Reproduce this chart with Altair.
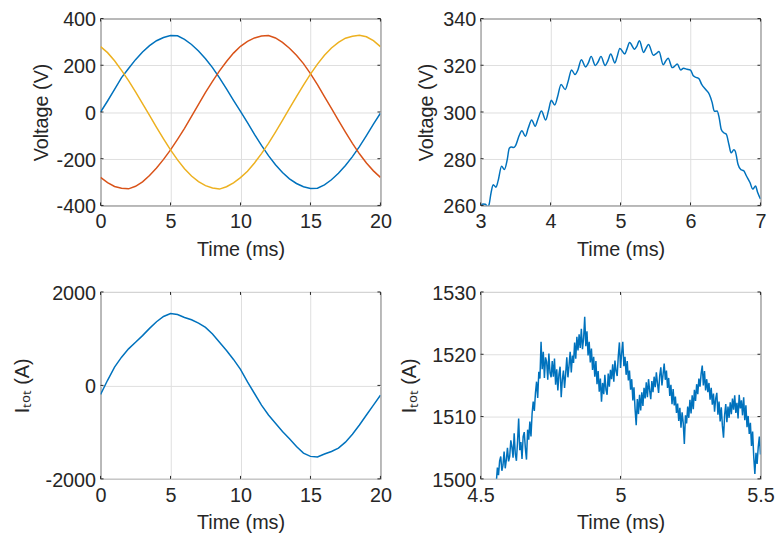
import altair as alt
import pandas as pd
import numpy as np

FONT = "Liberation Sans"
TXT = "#262626"
BLUE, ORANGE, YELLOW = "#0072BD", "#D95319", "#EDB120"

# ---------- Panel 1: three phase voltages (0-20 ms) ----------
t_phase = [i * 0.5 for i in range(41)]
v_a = [0, 47, 97, 147, 186, 224, 257, 284, 305, 319, 327, 326, 311, 289, 261, 228, 190, 146, 99, 50,
       3, -46, -96, -143, -187, -226, -259, -286, -306, -320, -327, -326, -312, -290, -262, -229,
       -191, -148, -101, -52, -5]
v_b = [-280, -302, -319, -326, -329, -318, -299, -272, -240, -203, -162, -117, -70, -19, 33, 84,
       131, 176, 216, 252, 281, 302, 317, 325, 327, 317, 298, 273, 243, 207, 164, 117, 66, 15,
       -36, -86, -134, -179, -218, -252, -280]
v_c = [280, 254, 219, 178, 134, 86, 36, -15, -66, -115, -162, -205, -243, -274, -298, -315, -325,
       -330, -320, -303, -281, -254, -218, -178, -134, -86, -36, 15, 66, 115, 162, 205, 243, 274,
       298, 316, 324, 328, 322, 305, 280]

# ---------- Panel 2: zoom of phase A voltage (3-7 ms) ----------
tz_v = [3.00, 3.03, 3.07, 3.10, 3.12, 3.15, 3.18, 3.22, 3.25, 3.30, 3.34, 3.38, 3.41, 3.44, 3.47,
        3.50, 3.55, 3.59, 3.64, 3.68, 3.73, 3.78, 3.82, 3.87, 3.93, 3.97, 4.01, 4.06, 4.10, 4.15,
        4.21, 4.25, 4.30, 4.35, 4.39, 4.44, 4.50, 4.54, 4.58, 4.64, 4.68, 4.72, 4.78, 4.82, 4.86,
        4.92, 4.95, 4.99, 5.06, 5.09, 5.13, 5.20, 5.23, 5.27, 5.33, 5.36, 5.40, 5.47, 5.51, 5.55,
        5.61, 5.64, 5.68, 5.74, 5.77, 5.81, 5.86, 5.90, 5.95, 6.00, 6.04, 6.08, 6.12, 6.16, 6.22,
        6.27, 6.31, 6.34, 6.38, 6.41, 6.44, 6.48, 6.51, 6.55, 6.58, 6.62, 6.64, 6.68, 6.72, 6.76,
        6.80, 6.85, 6.89, 6.93, 6.96, 7.00]
vz = [259.2, 260.6, 260.5, 259.4, 260.3, 265.5, 268.9, 267.8, 270.5, 276.8, 275.4, 279.5, 284.5,
      285.0, 284.8, 285.6, 289.8, 292.0, 289.6, 293.0, 296.6, 293.9, 297.0, 300.4, 296.6, 300.5,
      305.0, 303.0, 306.5, 311.8, 309.6, 313.0, 318.0, 316.0, 318.0, 322.4, 319.3, 321.0, 323.8,
      319.9, 321.5, 323.8, 319.9, 322.0, 324.8, 321.0, 323.5, 327.2, 324.8, 326.8, 329.7, 326.9,
      328.0, 330.5, 325.5, 327.0, 328.9, 324.3, 325.0, 325.9, 320.2, 321.5, 323.0, 319.0, 319.5,
      320.5, 318.0, 318.7, 318.3, 317.9, 315.5, 314.8, 314.3, 311.8, 309.5, 307.5, 304.0, 300.3,
      300.4, 297.5, 292.5, 291.0, 290.6, 286.0, 282.5, 283.8, 283.2, 277.5, 275.3, 274.9, 272.6,
      269.8, 267.0, 268.3, 265.5, 262.8]

# ---------- Panel 3: total current (0-20 ms) ----------
t_cur = [i * 0.5 for i in range(41)]
i_tot = [-195, 110, 393, 605, 782, 924, 1066, 1221, 1363, 1476, 1540, 1519, 1455, 1405, 1335, 1243,
         1101, 924, 747, 556, 343, 74, -173, -421, -634, -811, -988, -1143, -1306, -1448, -1519,
         -1533, -1469, -1413, -1342, -1214, -1044, -846, -634, -421, -209]

# ---------- Panel 4: zoom of total current (4.5-5.5 ms) ----------
tz_i = [round(4.556 + 0.004 * k, 3) for k in range(237)]
iz = [1499.4, 1501.8, 1500.6, 1502.9, 1503.6, 1501.3, 1502.2, 1504.4, 1501.7, 1503.1,
      1505.0, 1502.8, 1503.6, 1506.2, 1505.1, 1503.4, 1507.3, 1504.0, 1502.9, 1506.0,
      1509.7, 1504.6, 1505.9, 1503.2, 1506.8, 1507.5, 1504.9, 1503.1, 1507.9, 1506.3,
      1509.2, 1506.8, 1510.5, 1512.4, 1510.9, 1513.8, 1515.6, 1513.0, 1517.2, 1516.1,
      1522.0, 1517.6, 1520.4, 1516.2, 1519.5, 1518.8, 1515.9, 1520.1, 1517.0, 1516.3,
      1518.9, 1516.4, 1519.3, 1515.1, 1517.6, 1514.2, 1516.8, 1518.0, 1513.1, 1515.9,
      1517.4, 1514.6, 1516.9, 1519.5, 1516.3, 1518.2, 1520.4, 1517.1, 1519.8, 1518.6,
      1521.9, 1519.3, 1522.8, 1520.6, 1523.2, 1521.0, 1524.1, 1520.8, 1522.5, 1526.0,
      1521.3, 1523.7, 1519.8, 1522.0, 1518.7, 1520.9, 1517.5, 1519.6, 1516.4, 1518.9,
      1515.2, 1517.3, 1514.0, 1516.1, 1512.4, 1515.4, 1513.6, 1516.7, 1514.3, 1513.5,
      1516.9, 1514.8, 1517.5, 1516.0, 1518.4, 1515.6, 1519.0, 1517.3, 1516.5, 1519.7,
      1521.9, 1517.8, 1520.2, 1522.0, 1518.1, 1519.6, 1516.7, 1518.9, 1515.8, 1517.4,
      1514.3, 1516.0, 1512.6, 1514.7, 1511.2, 1508.6, 1512.8, 1510.4, 1513.5, 1511.0,
      1513.9, 1511.7, 1514.6, 1512.9, 1515.5, 1513.1, 1516.0, 1514.2, 1512.8, 1515.7,
      1513.9, 1516.4, 1514.7, 1517.1, 1515.3, 1513.8, 1516.6, 1517.9, 1515.0, 1516.8,
      1518.5, 1515.9, 1517.4, 1514.6, 1516.2, 1513.3, 1515.1, 1512.0, 1514.4, 1511.8,
      1513.2, 1510.6, 1512.1, 1509.3, 1511.4, 1508.2, 1510.7, 1509.0, 1505.6, 1510.2,
      1508.9, 1511.6, 1509.8, 1512.7, 1510.5, 1513.4, 1511.2, 1514.3, 1512.5, 1515.2,
      1513.6, 1516.1, 1514.8, 1516.9, 1518.2, 1515.0, 1517.3, 1514.2, 1516.0, 1513.9,
      1515.4, 1512.7, 1514.6, 1511.9, 1513.7, 1510.8, 1512.9, 1513.8, 1510.3, 1512.4,
      1509.2, 1511.5, 1508.5, 1506.6, 1510.3, 1512.0, 1509.1, 1511.6, 1509.8, 1512.3,
      1510.4, 1512.9, 1511.1, 1513.4, 1510.6, 1512.2, 1509.7, 1513.5, 1511.3, 1512.6,
      1510.2, 1513.1, 1509.4, 1511.8, 1508.3, 1510.1, 1507.2, 1509.0, 1505.3, 1507.6,
      1503.5, 1500.8, 1504.2, 1502.4, 1505.1, 1506.8, 1503.9]

W, H = 283, 189
TICK = 3
LW = 1.5


def xaxis(vals):
    return alt.Axis(values=vals, title="Time (ms)", grid=True, gridColor="#dfdfdf", gridWidth=1,
                    ticks=False, domain=False, labelFlush=False, labelPadding=6.5,
                    labelExpr="toString(datum.value)", titlePadding=7.7)


def yaxis(vals, title, tpad):
    return alt.Axis(values=vals, title=title, grid=True, gridColor="#dfdfdf", gridWidth=1,
                    ticks=False, domain=False, labelPadding=5, labelOffset=1.5,
                    labelExpr="toString(datum.value)", titlePadding=tpad)


def panel(df, ycol, xdom, xvals, ydom, yvals, ytitle, ytpad, color=None, interp="linear"):
    xsc = alt.Scale(domain=xdom, nice=False, zero=False)
    ysc = alt.Scale(domain=ydom, nice=False, zero=False)
    enc = dict(
        x=alt.X("t:Q", scale=xsc, axis=xaxis(xvals)),
        y=alt.Y(f"{ycol}:Q", scale=ysc, axis=yaxis(yvals, ytitle, ytpad)),
    )
    if color is not None:
        enc["color"] = color
        line = alt.Chart(df).mark_line(clip=True, strokeWidth=LW, interpolate=interp)
    else:
        line = alt.Chart(df).mark_line(clip=True, strokeWidth=LW, color=BLUE, interpolate=interp)
    line = line.encode(**enc)

    # MATLAB-style inward ticks on all four sides of the box (same fields as the line layer)
    xt = pd.DataFrame({"t": xvals})
    yt = pd.DataFrame({ycol: yvals})
    rule = dict(color=TXT, strokeWidth=1)
    xb = alt.Chart(xt).mark_rule(**rule).encode(
        x=alt.X("t:Q", scale=xsc), y=alt.value(H), y2=alt.value(H - TICK))
    xtp = alt.Chart(xt).mark_rule(**rule).encode(
        x=alt.X("t:Q", scale=xsc), y=alt.value(0), y2=alt.value(TICK))
    yl = alt.Chart(yt).mark_rule(**rule).encode(
        y=alt.Y(f"{ycol}:Q", scale=ysc), x=alt.value(0), x2=alt.value(TICK))
    yr = alt.Chart(yt).mark_rule(**rule).encode(
        y=alt.Y(f"{ycol}:Q", scale=ysc), x=alt.value(W), x2=alt.value(W - TICK))
    return alt.layer(line, xb, xtp, yl, yr).properties(width=W, height=H)


df1 = pd.DataFrame({
    "t": t_phase * 3,
    "v": v_a + v_b + v_c,
    "phase": ["a"] * len(v_a) + ["b"] * len(v_b) + ["c"] * len(v_c),
})
c1 = panel(df1, "v", [0, 20], [0, 5, 10, 15, 20], [-400, 400], [-400, -200, 0, 200, 400],
           "Voltage (V)", 5,
           color=alt.Color("phase:N", scale=alt.Scale(domain=["a", "b", "c"],
                                                      range=[BLUE, ORANGE, YELLOW]), legend=None))
c2 = panel(pd.DataFrame({"t": tz_v, "v": vz}), "v", [3, 7], [3, 4, 5, 6, 7], [260, 340],
           [260, 280, 300, 320, 340], "Voltage (V)", 6, interp="monotone")
c3 = panel(pd.DataFrame({"t": t_cur, "i": i_tot}), "i", [0, 20], [0, 5, 10, 15, 20],
           [-2000, 2000], [-2000, 0, 2000], "Iₜₒₜ (A)", 13)
c4 = panel(pd.DataFrame({"t": tz_i, "i": iz}), "i", [4.5, 5.5], [4.5, 5, 5.5], [1500, 1530],
           [1500, 1510, 1520, 1530], "Iₜₒₜ (A)", 12)

chart = alt.concat(c1, c2, c3, c4, columns=2, spacing={"row": 87.5, "column": 101.3},
                   bounds="flush").properties(
    padding={"left": 3.6, "top": -1.3, "right": 0, "bottom": -1}
).configure_view(stroke=TXT, strokeWidth=1).configure_axis(
    labelFont=FONT, labelFontSize=20, labelColor=TXT,
    titleFont=FONT, titleFontSize=20, titleFontWeight="normal", titleColor=TXT,
)

chart.save("out.html", embed_options={"renderer": "svg", "actions": False})
